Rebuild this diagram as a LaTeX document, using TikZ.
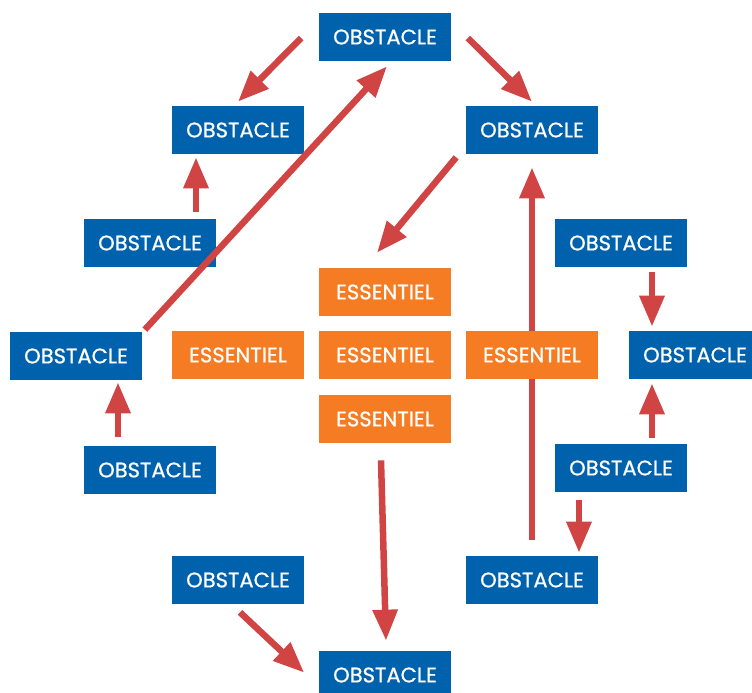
\documentclass[tikz,border=0pt]{standalone}
\usepackage{fontspec}
\setmainfont{Poppins}
\newfontfamily\boxfont[FakeBold=0.8]{Poppins}
\usetikzlibrary{arrows.meta,calc}
\definecolor{obstblue}{HTML}{0061AD}
\definecolor{essorange}{HTML}{F57C22}
\definecolor{arrred}{HTML}{D04444}

\begin{document}
\begin{tikzpicture}[x=0.02cm, y=-0.02cm,
	obst/.style = {rectangle, fill=obstblue, text=white, minimum width=2.66cm, minimum height=0.96cm, inner sep=0pt, font=\boxfont\fontsize{12}{14}\selectfont},
	ess/.style = {obst, fill=essorange},
	arr/.style = {draw=arrred, line width=0.13cm, -{Triangle[length=0.62cm, width=0.48cm]}}]

	\useasboundingbox (0,0) rectangle (752,693);

	\node[obst] (O1) at (385, 37) {OBSTACLE};
	\node[obst] (O2) at (238, 130) {OBSTACLE};
	\node[obst] (O3) at (532, 130) {OBSTACLE};
	\node[obst] (O4) at (150, 243) {OBSTACLE};
	\node[obst] (O5) at (621, 243) {OBSTACLE};
	\node[obst] (O7) at (76, 356) {OBSTACLE};
	\node[obst] (O11) at (695, 355) {OBSTACLE};
	\node[obst] (O13) at (150, 470) {OBSTACLE};
	\node[obst] (O14) at (621, 468) {OBSTACLE};
	\node[obst] (O15) at (238, 580) {OBSTACLE};
	\node[obst] (O16) at (532, 580) {OBSTACLE};
	\node[obst] (O17) at (385, 675) {OBSTACLE};

	% long arrow goes behind the orange box
	\draw[arr] ($(O16.north)+(0,-16)$) -- ($(O3.south)+(0,13)$);

	\node[ess] (E1) at (385, 292) {ESSENTIEL};
	\node[ess] (E2) at (238, 355) {ESSENTIEL};
	\node[ess] (E3) at (385, 355) {ESSENTIEL};
	\node[ess] (E4) at (532, 355) {ESSENTIEL};
	\node[ess] (E5) at (385, 419) {ESSENTIEL};

	\draw[arr] ($(O1.west)+(-17,1)$) -- ($(O2.north)+(0,-4)$);
	\draw[arr] ($(O1.east)+(16,1)$) -- ($(O3.north)+(0,-4)$);
	\draw[arr] ($(O4.north)+(46,-7)$) -- ($(O2.south)+(-42,3)$);
	\draw[arr] ($(O7.north east)+(2,-2)$) -- ($(O1.south)+(2,5)$);
	\draw[arr] ($(O3.south west)+(-9,3)$) -- ($(E1.north)+(-8,-15)$);
	\draw[arr] ($(O5.south)+(31,5)$) -- ($(O11.north)+(-43,-4)$);
	\draw[arr] ($(O14.north)+(31,-6)$) -- ($(O11.south)+(-43,4)$);
	\draw[arr] ($(O13.north)+(-32,-9)$) -- ($(O7.south)+(42,2)$);
	\draw[arr] ($(O14.south)+(-42,8)$) -- ($(O16.north)+(47,-3)$);
	\draw[arr] ($(E5.south)+(-4,17)$) -- ($(O17.north)+(1,-10)$);
	\draw[arr] ($(O15.south)+(2,8)$) -- ($(O17.north west)+(-14,22)$);

\end{tikzpicture}
\end{document}
